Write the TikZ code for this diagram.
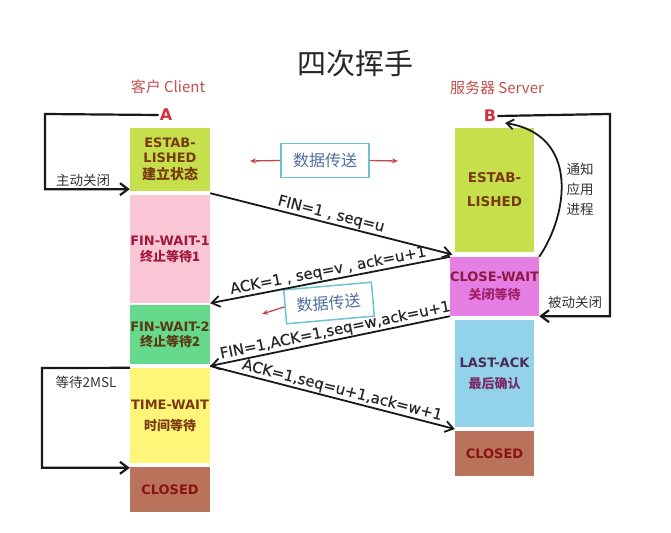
\documentclass[tikz,border=0pt]{standalone}
\usepackage{fontspec}
\setmainfont{DejaVu Sans}
\newfontfamily\cjk{Noto Sans CJK SC}
\newfontfamily\msgfont[FakeBold=0.4]{DejaVu Sans}
\usetikzlibrary{arrows.meta,calc}

% box fills
\definecolor{fEst}{HTML}{C5E04C}
\definecolor{fFwOne}{HTML}{F9C6D6}
\definecolor{fFwTwo}{HTML}{66D98C}
\definecolor{fTw}{HTML}{FFF578}
\definecolor{fCl}{HTML}{B8735A}
\definecolor{fCw}{HTML}{E57FE3}
\definecolor{fLa}{HTML}{92D3EA}
% box texts
\definecolor{tEst}{HTML}{7A3A10}
\definecolor{tFwOne}{HTML}{A01A3C}
\definecolor{tFwTwo}{HTML}{5A3A10}
\definecolor{tTw}{HTML}{7A3A10}
\definecolor{tCl}{HTML}{8B1212}
\definecolor{tCw}{HTML}{8B1A40}
\definecolor{tCwZh}{HTML}{A0206A}
\definecolor{tLa}{HTML}{4A2A5A}
\definecolor{tLaZh}{HTML}{7A2A6A}
% other colours
\definecolor{head}{HTML}{C0504D}
\definecolor{letter}{HTML}{D03040}
\definecolor{databorder}{HTML}{6EC3D0}
\definecolor{datatext}{HTML}{4F6EA0}
\definecolor{dataarrow}{HTML}{C04848}
\definecolor{note}{HTML}{333333}

\begin{document}
\begin{tikzpicture}[x=1pt,y=-1pt,
  state/.style={draw=none, inner sep=0pt, align=center,
    font=\bfseries\fontsize{13}{15}\selectfont},
  lstate/.style={state, minimum width=80pt},
  rstate/.style={state, minimum width=79pt},
  msg/.style={line width=1.8pt, draw=black!90,
    -{Straight Barb[length=8pt,width=11pt]}},
  msglabel/.style={above, sloped, inner sep=1pt, text=black!85,
    font=\msgfont\fontsize{15}{17}\selectfont},
  loopline/.style={line width=2.2pt, draw=black!90,
    -{Straight Barb[length=8pt,width=12pt]}},
  notetext/.style={text=note, font=\cjk\fontsize{13.5}{15}\selectfont},
  databox/.style={draw=databorder, line width=1.5pt, fill=white,
    minimum width=88pt, minimum height=34pt, text=datatext,
    font=\cjk\fontsize{16}{18}\selectfont},
  dataflow/.style={draw=dataarrow, line width=1.3pt,
    -{Stealth[length=6pt,width=5pt]}}
]
\path[use as bounding box] (0,0) rectangle (671,532);

% title and column headings
\node[text=black!85, font=\cjk\fontsize{29}{32}\selectfont] (title) at (355,64) {四次挥手};
\node[text=head, font=\cjk\fontsize{15}{17}\selectfont] (client) at (168,87) {客户 Client};
\node[text=head, font=\cjk\fontsize{15}{17}\selectfont] (server) at (497,88) {服务器 Server};
\node[text=letter, font=\bfseries\fontsize{16}{18}\selectfont, inner sep=1pt] (A) at (166,115) {A};
\node[text=letter, font=\bfseries\fontsize{16}{18}\selectfont, inner sep=1pt] (B) at (490,116) {B};

% client states
\node[lstate, fill=fEst, text=tEst, minimum height=63pt] (les) at (170,159.5)
  {ESTAB-\\LISHED\\[2pt]{\cjk\fontsize{14}{16}\selectfont 建立状态}};
\node[lstate, fill=fFwOne, text=tFwOne, minimum height=108pt] (lfw1) at (170,249)
  {FIN-WAIT-1\\[1pt]{\cjk 终止等待1}};
\node[lstate, fill=fFwTwo, text=tFwTwo, minimum height=59pt] (lfw2) at (170,334.5)
  {FIN-WAIT-2\\{\cjk 终止等待2}};
\node[lstate, fill=fTw, text=tTw, minimum height=95pt] (ltw) at (170,415.5)
  {TIME-WAIT\\[6pt]{\cjk 时间等待}};
\node[lstate, fill=fCl, text=tCl, minimum height=45pt] (lcl) at (170,489.5) {CLOSED};

% server states
\node[rstate, fill=fEst, text=tEst, minimum height=124pt,
  font=\bfseries\fontsize{13.5}{15}\selectfont] (res) at (494.5,190)
  {ESTAB-\\[9pt]LISHED};
\node[rstate, fill=fCw, text=tCw, minimum height=59pt] (rcw) at (494.5,286.5)
  {CLOSE-WAIT\\[3pt]{\cjk\color{tCwZh}关闭等待}};
\node[rstate, fill=fLa, text=tLa, minimum height=107pt] (rla) at (494.5,373.5)
  {LAST-ACK\\[6pt]{\cjk\color{tLaZh}最后确认}};
\node[rstate, fill=fCl, text=tCl, minimum height=45pt] (rcl) at (494.5,453.5) {CLOSED};

% data transfer notes
\node[databox] (dt1) at (325,160.5) {数据传送};
\coordinate (dt1l) at (250,161);
\coordinate (dt1r) at (398,161);
\draw[dataflow] (dt1.west) -- (dt1l);
\draw[dataflow] (dt1.east) -- (dt1r);
\node[databox, rotate=5] (dt2) at (329,303) {数据传送};
\coordinate (dt2l) at (262,314);
\draw[dataflow] (dt2.west) -- (dt2l);

% message arrows
\coordinate (sFin) at ($(les.south east)+(0,2)$);
\coordinate (rTop) at ($(res.south west)!0.5!(rcw.north west)$);
\coordinate (lMid) at ($(lfw2.south east)!0.5!(ltw.north east)$);
\coordinate (rBot) at ($(rla.south west)!0.5!(rcl.north west)$);
\draw[msg] (sFin) -- node[msglabel, pos=0.49] {FIN=1 , seq=u} (rTop);
\draw[msg] (rcw.north west) -- node[msglabel] {ACK=1 , seq=v , ack=u+1} (lfw1.south east);
\draw[msg] (rcw.south west) -- node[msglabel, pos=0.47] {FIN=1,ACK=1,seq=w,ack=u+1} (lMid);
\draw[msg] (lMid) -- node[msglabel, pos=0.53] {ACK=1,seq=u+1,ack=w+1} (rBot);

% active close loop
\coordinate (acTop) at (45,114);
\draw[loopline] (A.west) -- (acTop) |- ([yshift=2pt]les.south west);
\node[notetext] (actxt) at (83,180) {主动关闭};

% passive close loop
\coordinate (pcTop) at (610,114);
\draw[loopline] (B.east) -- (pcTop) |- (rcw.south east);
\node[notetext] (pctxt) at (575,302) {被动关闭};

% notify application process
\coordinate (notifyEnd) at (505,123);
\draw[line width=1.8pt, draw=black!90, -{Straight Barb[length=7pt,width=10pt]}]
  (rcw.north east) .. controls (568,215) and (580,135) .. (notifyEnd);
\node[notetext, align=center] (ntxt) at (580,189) {通知\\[5pt]应用\\[5pt]进程};

% wait 2MSL loop
\coordinate (twTop) at (42,368);
\draw[loopline] (ltw.north west) -- (twTop) |- ([yshift=-1pt]lcl.north west);
\node[notetext] (twtxt) at (86,382) {等待2MSL};
\end{tikzpicture}
\end{document}
